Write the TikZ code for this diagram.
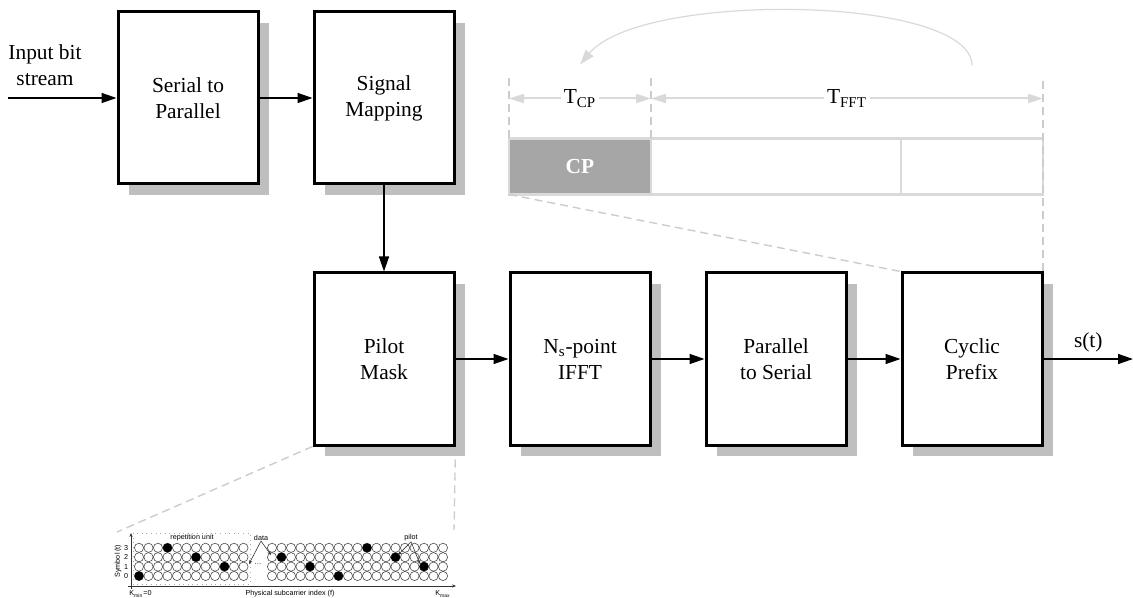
\documentclass[tikz,border=0pt]{standalone}
\usepackage{fontspec}
\setmainfont{Liberation Serif}
\newfontfamily\insetfont{Liberation Sans}
\usepackage{xcolor}
\usepackage{tikz}
\usetikzlibrary{arrows.meta, positioning, shadows, backgrounds}

\definecolor{shadowgray}{HTML}{BFBFBF}
\definecolor{framegray}{HTML}{D9D9D9}
\definecolor{cpgray}{HTML}{A6A6A6}
\definecolor{guidegray}{HTML}{CCCCCC}

\begin{document}
\begin{tikzpicture}[x=0.5pt, y=-0.5pt,
    block/.style={rectangle, draw, line width=1.5pt, fill=white, minimum width=70pt, minimum height=86pt, align=center, font=\fontsize{10.7}{13}\selectfont, drop shadow={shadow xshift=5.5pt, shadow yshift=-5.5pt, opacity=1, fill=shadowgray}},
    frameseg/.style={rectangle, draw=framegray, line width=1.3pt, minimum height=28pt, outer sep=0pt, inner sep=0pt},
    arrow/.style={-{Triangle[length=7.5pt, width=5pt]}, line width=0.7pt},
    dimline/.style={<->, >={Triangle[length=7.5pt, width=4.5pt]}, framegray, line width=1pt},
    guideline/.style={guidegray, line width=0.7pt, dash pattern=on 4pt off 2.5pt},
    txt/.style={align=center, font=\fontsize{10.7}{13}\selectfont},
    dimlabel/.style={fill=white, inner sep=1.5pt, text=black, font=\fontsize{10.7}{13}\selectfont},
    carrier/.style={draw=black!70, line width=0.3pt},
    tinyarrow/.style={-{Stealth[length=2pt, width=1.6pt]}, line width=0.3pt, black!80},
    insetbox/.style={draw=black!35, line width=0.3pt, dotted}]

    \useasboundingbox (0,0) rectangle (1133,598);

    \node (serial) [block] at (188,98) {Serial to\\Parallel};
    \node (mapping) [block, right=26.5pt of serial] {Signal\\Mapping};
    \node (pilot) [block, below=43pt of mapping] {Pilot\\Mask};
    \node (ifft) [block, right=26.5pt of pilot] {N\textsubscript{s}-point\\IFFT};
    \node (p2s) [block, right=26.5pt of ifft] {Parallel\\to Serial};
    \node (cyclic) [block, right=26.5pt of p2s] {Cyclic\\Prefix};

    \coordinate (in) at (8,98);
    \coordinate (out) at (1133,359);
    \node (inlabel) [txt] at (45,65) {Input bit\\stream};

    \draw [arrow] (in) -- (serial);
    \draw [arrow] (serial) -- (mapping);
    \draw [arrow] (mapping) -- (pilot);
    \draw [arrow] (pilot) -- (ifft);
    \draw [arrow] (ifft) -- (p2s);
    \draw [arrow] (p2s) -- (cyclic);
    \draw [arrow] (cyclic) -- node[above, txt] {s(t)} (out);

    \node (cpseg) [frameseg, fill=cpgray, minimum width=71pt, text=white, font=\fontsize{10.7}{13}\selectfont\bfseries, above=38.5pt of ifft] {CP};
    \node (midseg) [frameseg, minimum width=125pt, right=0pt of cpseg] {};
    \node (rseg) [frameseg, minimum width=71pt, right=0pt of midseg] {};

    \draw [guideline] (cpseg.north west) -- ([yshift=31pt]cpseg.north west);
    \draw [guideline] (cpseg.north east) -- ([yshift=31pt]cpseg.north east);
    \draw [guideline] (rseg.north east |- cyclic.north) -- ([yshift=31pt]rseg.north east);
    \draw [guideline] (cpseg.south west) -- (cyclic.north west);

    \draw [dimline] ([yshift=20pt]cpseg.north west) -- node[dimlabel] {T\textsubscript{CP}} ([yshift=20pt]cpseg.north east);
    \draw [dimline] ([yshift=20pt]midseg.north west) -- node[dimlabel] {T\textsubscript{FFT}} ([yshift=20pt]rseg.north east);

    \coordinate (loopstart) at ([yshift=36.5pt]rseg.north);
    \coordinate (loopend) at ([yshift=37pt]cpseg.north);
    \draw [-{Triangle[length=7.5pt, width=5pt]}, framegray, line width=0.6pt] (loopstart) .. controls +(0,-70) and +(62,-74) .. (loopend);

    \coordinate (insettl) at (117,532);
    \coordinate (insettr) at (454,530);
    \begin{scope}[on background layer]
        \draw [guideline] (pilot.south west) -- (insettl);
        \draw [guideline] (pilot.south east) -- (insettr);
    \end{scope}

    \begin{scope}[font=\insetfont\fontsize{3.6}{4.3}\selectfont]
        \draw [insetbox] (133,533) rectangle (250,584);
        \foreach \c in {0,...,11}
            \foreach \r in {0,...,3}
                \draw [carrier] (139+9.5*\c, 576-9.4*\r) circle[radius=2.3pt];
        \foreach \c in {0,...,18}
            \foreach \r in {0,...,3}
                \draw [carrier] (272+9.5*\c, 576-9.4*\r) circle[radius=2.3pt];
        \foreach \c/\r in {0/0, 3/3, 6/2, 9/1}
            \fill (139+9.5*\c, 576-9.4*\r) circle[radius=2.3pt];
        \foreach \c/\r in {1/2, 4/1, 7/0, 10/3, 13/2, 16/1}
            \fill (272+9.5*\c, 576-9.4*\r) circle[radius=2.3pt];
        \foreach \r in {0,...,3}
            \node (row\r) [inner sep=0pt] at (126, 576-9.4*\r) {\r};

        \coordinate (origin) at (131,589);
        \coordinate (ytip) at (131,533);
        \coordinate (xstart) at (128,586);
        \coordinate (xtip) at (456,586);
        \draw [tinyarrow] (origin) -- (ytip);
        \draw [tinyarrow] (xstart) -- (xtip);

        \node (symlbl) [rotate=90, inner sep=0pt] at (118,561) {Symbol (t)};
        \node (kmin) [anchor=west, inner sep=0pt] at (129,594) {K\textsubscript{min}=0};
        \node (xlbl) [inner sep=0pt] at (290,594) {Physical subcarrier index (f)};
        \node (kmax) [anchor=east, inner sep=0pt] at (451,594) {K\textsubscript{max}};

        \node (repunit) [inner sep=0pt] at (192,538) {repetition unit};
        \node (gap) [inner sep=0pt] at (258,564) {\dots};
        \node (datalbl) [inner sep=0pt] at (261,538) {data};
        \node (pilotlbl) [inner sep=0pt] at (411,538) {pilot};

        \coordinate (dataleft) at (249,564);
        \coordinate (dataright) at (271,555);
        \coordinate (pilotleft) at (398,555);
        \coordinate (pilotright) at (420,564);
        \draw [tinyarrow] (datalbl.south) -- (dataleft);
        \draw [tinyarrow] (datalbl.south) -- (dataright);
        \draw [tinyarrow] (pilotlbl.south) -- (pilotleft);
        \draw [tinyarrow] (pilotlbl.south) -- (pilotright);
    \end{scope}

\end{tikzpicture}
\end{document}
